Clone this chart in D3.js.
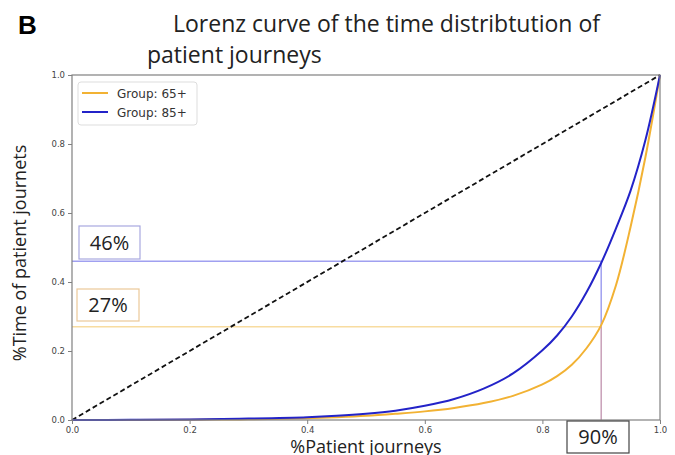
<!DOCTYPE html>
<html><head><meta charset="utf-8">
<script src="https://cdn.jsdelivr.net/npm/d3@7"></script>
<style>body{margin:0;background:#fff}svg{display:block}</style>
</head><body>
<svg id="c" width="675" height="455"></svg>
<script>
const xs =      [0, 0.1,    0.2,    0.3,   0.4,   0.45,  0.5,   0.55,  0.6,   0.65,  0.7,   0.75,  0.8,   0.825, 0.85,  0.875, 0.9,   0.925, 0.95,  0.975, 1.0];
const group85 = [0, 0.0005, 0.0015, 0.004, 0.008, 0.012, 0.018, 0.027, 0.041, 0.061, 0.091, 0.135, 0.202, 0.245, 0.30,  0.37,  0.455, 0.555, 0.665, 0.81,  1.0];
const group65 = [0, 0.0003, 0.001,  0.002, 0.005, 0.008, 0.012, 0.018, 0.025, 0.035, 0.049, 0.07,  0.103, 0.127, 0.16,  0.208, 0.275, 0.39,  0.56,  0.76,  1.0];
const ticks = [0, 0.2, 0.4, 0.6, 0.8, 1.0];
const seriesNames = ["Group: 65+", "Group: 85+"];
const markX = 0.9, mark85 = 0.46, mark65 = 0.27;
const labels = ["46%", "27%", "90%"];

const svg = d3.select("#c");
const x = d3.scaleLinear().domain([0,1]).range([72,660]);
const y = d3.scaleLinear().domain([0,1]).range([420,75]);
const cOr = "#f2b233", cBl = "#2323c8";

// title
svg.append("text").attr("x",18).attr("y",34).attr("font-family","Liberation Sans, Arial").attr("font-weight","bold").attr("font-size",26).text("B");
svg.append("text").attr("x",173).attr("y",32).attr("font-family","Open Sans").attr("font-size",23).attr("fill","#222").text("Lorenz curve of the time distribtution of");
svg.append("text").attr("x",147).attr("y",63).attr("font-family","Open Sans").attr("font-size",23).attr("fill","#222").text("patient journeys");

// reference lines
svg.append("line").attr("x1",x(0)).attr("x2",x(markX)).attr("y1",y(mark85)).attr("y2",y(mark85)).attr("stroke","#a0a0f0").attr("stroke-width",1.5);
svg.append("line").attr("x1",x(0)).attr("x2",x(markX)).attr("y1",y(mark65)).attr("y2",y(mark65)).attr("stroke","#f8dca0").attr("stroke-width",1.5);
svg.append("line").attr("x1",x(markX)).attr("x2",x(markX)).attr("y1",y(mark85)).attr("y2",y(mark65)).attr("stroke","#a0a0f0").attr("stroke-width",1.5);
svg.append("line").attr("x1",x(markX)).attr("x2",x(markX)).attr("y1",y(mark65)).attr("y2",y(0)).attr("stroke","#c8a0b8").attr("stroke-width",1.5);

// diagonal
svg.append("line").attr("x1",x(0)).attr("y1",y(0)).attr("x2",x(1)).attr("y2",y(1)).attr("stroke","#111").attr("stroke-width",1.8).attr("stroke-dasharray","5,3");

// curves
const line = d3.line().x(d=>x(d[0])).y(d=>y(d[1])).curve(d3.curveCatmullRom.alpha(0.5));
svg.append("path").datum(xs.map((v,i)=>[v,group65[i]])).attr("d",line).attr("fill","none").attr("stroke",cOr).attr("stroke-width",2);
svg.append("path").datum(xs.map((v,i)=>[v,group85[i]])).attr("d",line).attr("fill","none").attr("stroke",cBl).attr("stroke-width",2);

// frame
svg.append("rect").attr("x",x(0)).attr("y",y(1)).attr("width",x(1)-x(0)).attr("height",y(0)-y(1)).attr("fill","none").attr("stroke","#808080").attr("stroke-width",1.2);

// axes
const xa = svg.append("g").attr("transform",`translate(0,${y(0)})`).call(d3.axisBottom(x).tickValues(ticks).tickFormat(d3.format(".1f")).tickSize(4).tickPadding(3));
const ya = svg.append("g").attr("transform",`translate(${x(0)},0)`).call(d3.axisLeft(y).tickValues(ticks).tickFormat(d3.format(".1f")).tickSize(4).tickPadding(3));
[xa,ya].forEach(a=>{a.select(".domain").remove();a.selectAll("line").attr("stroke","#808080");a.selectAll("text").attr("font-family","DejaVu Sans").attr("font-size",8.5).attr("fill","#444");});

// axis labels
svg.append("text").attr("x",366).attr("y",453).attr("text-anchor","middle").attr("font-family","Open Sans").attr("font-size",18).attr("fill","#222").text("%Patient journeys");
svg.append("text").attr("transform","translate(26,253) rotate(-90)").attr("text-anchor","middle").attr("font-family","Open Sans").attr("font-size",18).attr("fill","#222").text("%Time of patient journets");

// legend
svg.append("rect").attr("x",78).attr("y",82).attr("width",119).attr("height",43).attr("rx",3).attr("fill","#fff").attr("stroke","#ddd");
[[cOr,93],[cBl,112]].forEach((d,i)=>{
  svg.append("line").attr("x1",82).attr("x2",108).attr("y1",d[1]).attr("y2",d[1]).attr("stroke",d[0]).attr("stroke-width",2);
  svg.append("text").attr("x",117).attr("y",d[1]+4.5).attr("font-family","DejaVu Sans").attr("font-size",12).attr("fill","#333").text(seriesNames[i]);
});

// annotation boxes
const boxes = [[79,226,61,33,"#a8a8e0",labels[0]],[77,289,62,32,"#ecc898",labels[1]],[567,421,62,32,"#444",labels[2]]];
boxes.forEach(b=>{
  svg.append("rect").attr("x",b[0]).attr("y",b[1]).attr("width",b[2]).attr("height",b[3]).attr("fill","#fff").attr("stroke",b[4]).attr("stroke-width",1.2);
  svg.append("text").attr("x",b[0]+b[2]/2).attr("y",b[1]+b[3]/2+7).attr("text-anchor","middle").attr("font-family","Open Sans").attr("font-size",20).attr("fill","#222").text(b[5]);
});
</script>
</body></html>
